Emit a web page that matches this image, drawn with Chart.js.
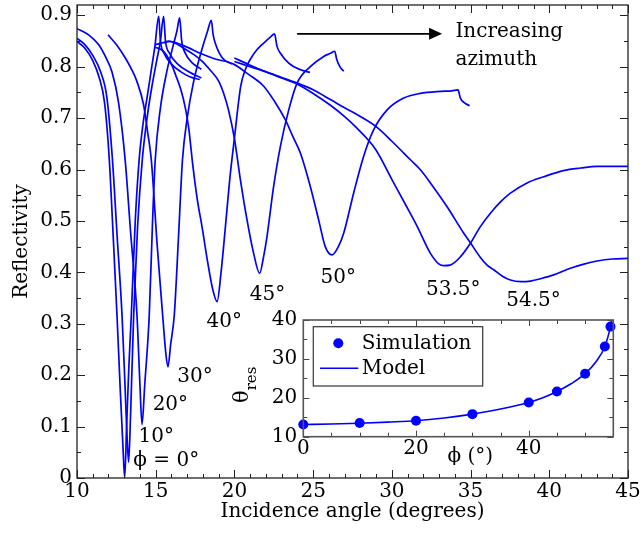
<!DOCTYPE html>
<html><head><meta charset="utf-8">
<script src="https://cdn.jsdelivr.net/npm/chart.js@4/dist/chart.umd.min.js"></script>
<style>
html,body{margin:0;padding:0;background:#fff;}
#wrap{position:relative;width:640px;height:533px;background:#fff;}
#main{position:absolute;left:0;top:0;width:640px;height:533px;}
#inset{position:absolute;left:230px;top:300px;width:390px;height:165px;}
</style></head><body>
<div id="wrap">
<canvas id="main" width="640" height="533"></canvas>
<canvas id="inset" width="390" height="165"></canvas>
</div>
<script>
// ---------------- main chart data ----------------
const xTickValues = [10, 15, 20, 25, 30, 35, 40, 45];
const yTickValues = [0, 0.1, 0.2, 0.3, 0.4, 0.5, 0.6, 0.7, 0.8, 0.9];
const yTickLabels = ['0', '0.1', '0.2', '0.3', '0.4', '0.5', '0.6', '0.7', '0.8', '0.9'];

const phi0_x = [10, 10.5, 11.0, 11.4, 11.75, 12.05, 12.3, 12.54, 12.75, 12.92, 13.03, 13.15, 13.3, 13.45, 13.7, 13.95, 14.2, 14.45, 14.7, 14.95, 15.19, 15.3, 15.55, 16.0, 16.6, 17.2, 17.8];
const phi0_y = [0.849, 0.836, 0.812, 0.78, 0.73, 0.62, 0.47, 0.317, 0.17, 0.06, 0.0, 0.1, 0.22, 0.317, 0.5, 0.62, 0.69, 0.74, 0.79, 0.84, 0.898, 0.85, 0.825, 0.805, 0.79, 0.78, 0.775];

const phi10_x = [10, 10.5, 11.0, 11.5, 11.9, 12.25, 12.55, 12.86, 13.05, 13.18, 13.28, 13.4, 13.6, 13.85, 14.15, 14.45, 14.75, 15.05, 15.3, 15.5, 15.62, 15.9, 16.4, 17.1, 17.9];
const phi10_y = [0.855, 0.843, 0.822, 0.79, 0.74, 0.62, 0.47, 0.317, 0.18, 0.08, 0.031, 0.12, 0.317, 0.49, 0.62, 0.7, 0.76, 0.81, 0.85, 0.898, 0.85, 0.825, 0.805, 0.79, 0.778];

const phi20_x = [10, 10.74, 11.37, 11.8, 12.22, 12.64, 13.07, 13.4, 13.81, 14.0, 14.13, 14.3, 14.59, 14.8, 14.97, 15.3, 15.7, 16.1, 16.35, 16.52, 16.65, 16.9, 17.3, 17.9];
const phi20_y = [0.874, 0.862, 0.843, 0.82, 0.79, 0.73, 0.615, 0.48, 0.317, 0.18, 0.104, 0.18, 0.317, 0.5, 0.619, 0.72, 0.79, 0.84, 0.87, 0.895, 0.85, 0.825, 0.808, 0.795];

const phi30_x = [11.97, 12.5, 13.07, 13.5, 13.81, 14.23, 14.5, 14.72, 15.1, 15.44, 15.65, 15.78, 15.95, 16.18, 16.45, 16.7, 17.0, 17.4, 17.9, 18.3, 18.53, 18.65, 18.79, 19.21, 19.85];
const phi30_y = [0.862, 0.843, 0.817, 0.793, 0.771, 0.726, 0.67, 0.619, 0.45, 0.317, 0.24, 0.216, 0.26, 0.317, 0.47, 0.619, 0.7, 0.77, 0.83, 0.87, 0.89, 0.862, 0.845, 0.818, 0.805];

const phi40_x = [14.97, 15.5, 16.0, 16.25, 16.6, 16.88, 17.1, 17.35, 17.65, 17.94, 18.3, 18.6, 18.9, 19.15, 19.42, 19.7, 20.0, 20.4, 20.7, 21.0, 21.4, 21.86, 22.3, 22.55, 22.7, 22.9, 23.45, 24.2, 24.8];
const phi40_y = [0.838, 0.83, 0.805, 0.785, 0.755, 0.72, 0.68, 0.61, 0.54, 0.489, 0.42, 0.37, 0.343, 0.4, 0.486, 0.58, 0.661, 0.762, 0.795, 0.814, 0.832, 0.846, 0.858, 0.864, 0.84, 0.827, 0.807, 0.794, 0.789];

const phi45_x = [15.5, 15.82, 16.4, 16.88, 17.4, 17.94, 18.5, 19.0, 19.35, 19.63, 20.0, 20.38, 20.8, 21.22, 21.6, 21.85, 22.07, 22.49, 22.92, 23.45, 23.98, 24.82, 25.67, 26.1, 26.37, 26.5, 26.7, 26.94];
const phi45_y = [0.846, 0.85, 0.843, 0.834, 0.824, 0.811, 0.792, 0.772, 0.745, 0.715, 0.66, 0.58, 0.502, 0.437, 0.398, 0.43, 0.47, 0.567, 0.645, 0.716, 0.768, 0.8, 0.82, 0.826, 0.83, 0.814, 0.8, 0.791];

const phi50_x = [14.97, 15.93, 16.99, 17.83, 18.68, 19.95, 20.9, 21.86, 22.6, 23.23, 23.7, 24.19, 24.82, 25.35, 25.77, 26.2, 26.6, 26.94, 27.57, 28.2, 28.84, 29.7, 30.75, 31.8, 33.1, 33.8, 34.2, 34.35, 34.6, 34.94];
const phi50_y = [0.843, 0.849, 0.838, 0.826, 0.816, 0.805, 0.785, 0.762, 0.73, 0.697, 0.665, 0.632, 0.567, 0.502, 0.45, 0.434, 0.45, 0.476, 0.554, 0.625, 0.677, 0.716, 0.739, 0.748, 0.752, 0.753, 0.755, 0.739, 0.73, 0.724];

const phi53_5_x = [20.0, 21.0, 22.0, 23.0, 24.0, 25.0, 26.1, 27.0, 27.7, 28.95, 30.1, 30.9, 31.6, 32.45, 33.0, 33.3, 33.7, 34.35, 35.0, 35.6, 36.26, 36.9, 37.53, 38.59, 39.65, 40.9, 42.0, 43.04, 45.0];
const phi53_5_y = [0.817, 0.803, 0.79, 0.778, 0.766, 0.748, 0.725, 0.703, 0.683, 0.64, 0.575, 0.53, 0.49, 0.437, 0.416, 0.413, 0.414, 0.43, 0.457, 0.488, 0.515, 0.537, 0.554, 0.574, 0.586, 0.598, 0.603, 0.606, 0.606];

const phi54_5_x = [20.0, 21.0, 22.0, 23.0, 24.0, 25.0, 26.1, 27.0, 28.0, 29.06, 30.0, 31.18, 31.8, 32.45, 33.5, 34.57, 35.0, 35.6, 36.05, 36.47, 37.0, 37.53, 38.2, 38.8, 39.5, 40.28, 41.34, 42.2, 43.04, 44.0, 45.0];
const phi54_5_y = [0.81, 0.8, 0.79, 0.779, 0.768, 0.755, 0.736, 0.72, 0.703, 0.682, 0.655, 0.619, 0.6, 0.574, 0.528, 0.476, 0.457, 0.43, 0.414, 0.405, 0.393, 0.385, 0.382, 0.383, 0.388, 0.395, 0.408, 0.416, 0.422, 0.426, 0.427];

// curve annotations (text and anchor in data units)
const curveLabels = ['\u03D5 = 0\u00B0', '10\u00B0', '20\u00B0', '30\u00B0', '40\u00B0', '45\u00B0', '50\u00B0', '53.5\u00B0', '54.5\u00B0'];
const curveLabelX = [15.67, 15.04, 15.93, 17.5, 19.35, 22.1, 26.6, 33.9, 39.0];
const curveLabelY = [0.033, 0.081, 0.142, 0.197, 0.304, 0.357, 0.389, 0.366, 0.344];
const arrowFrom = [23.98, 0.864];
const arrowTo = [33.19, 0.864];
const noteLines = ['Increasing', 'azimuth'];
const noteX = 34.04;
const noteY = [0.857, 0.8035];

// ---------------- inset data ----------------
const simPhi = [0, 10, 20, 30, 40, 45, 50, 53.5, 54.5];
const simTheta = [13.15, 13.5, 14.1, 15.8, 18.8, 21.6, 26.2, 33.2, 38.3];
const modelPhi = [0, 5, 10, 15, 20, 25, 30, 35, 40, 42.5, 45, 47.5, 50, 52, 53.5, 54.5, 54.9];
const modelTheta = [13.15, 13.25, 13.45, 13.75, 14.1, 14.8, 15.8, 17.1, 18.8, 20.0, 21.6, 23.6, 26.2, 29.4, 33.2, 38.3, 41.5];
const insetXTicks = [0, 20, 40];
const insetYTicks = [10, 20, 30, 40];

// ---------------- drawing ----------------
const FONT = "'DejaVu Serif', serif";
const BLUE = '#0000ff';

const curves = [
  [phi0_x, phi0_y], [phi10_x, phi10_y], [phi20_x, phi20_y], [phi30_x, phi30_y],
  [phi40_x, phi40_y], [phi45_x, phi45_y], [phi50_x, phi50_y],
  [phi53_5_x, phi53_5_y], [phi54_5_x, phi54_5_y]
];

function pts(xs, ys) { return xs.map((v, i) => ({x: v, y: ys[i]})); }
function noPadV(s) { s.paddingTop = 0; s.paddingBottom = 0; }
function noPadH(s) { s.paddingLeft = 0; s.paddingRight = 0; }

const mainAxes = {
  id: 'mainAxes',
  afterDatasetsDraw(chart) {
    const {ctx, chartArea: ca, scales: {x, y}} = chart;
    ctx.save();
    ctx.strokeStyle = '#222';
    ctx.lineWidth = 1;
    ctx.beginPath();
    for (let v = x.min; v <= x.max + 1e-9; v += 1) {
      const px = Math.round(x.getPixelForValue(v)) + 0.5;
      const len = (Math.round(v) % 5 === 0) ? 8 : 4;
      ctx.moveTo(px, ca.bottom); ctx.lineTo(px, ca.bottom - len);
      ctx.moveTo(px, ca.top); ctx.lineTo(px, ca.top + len);
    }
    for (let k = 0; k * 0.05 <= y.max + 1e-9; k++) {
      const py = Math.round(y.getPixelForValue(k * 0.05)) + 0.5;
      const len = (k % 2 === 0) ? 8 : 4;
      ctx.moveTo(ca.left, py); ctx.lineTo(ca.left + len, py);
      ctx.moveTo(ca.right, py); ctx.lineTo(ca.right - len, py);
    }
    ctx.stroke();
    ctx.lineWidth = 1.3;
    ctx.strokeRect(ca.left, ca.top, ca.width, ca.height);

    // curve labels
    ctx.fillStyle = '#000';
    ctx.font = '20px ' + FONT;
    ctx.textAlign = 'center';
    ctx.textBaseline = 'middle';
    curveLabels.forEach((t, i) => {
      ctx.fillText(t, x.getPixelForValue(curveLabelX[i]), y.getPixelForValue(curveLabelY[i]));
    });
    // arrow
    const ax0 = x.getPixelForValue(arrowFrom[0]), ay = y.getPixelForValue(arrowFrom[1]);
    const ax1 = x.getPixelForValue(arrowTo[0]);
    ctx.strokeStyle = '#000';
    ctx.lineWidth = 1.8;
    ctx.beginPath(); ctx.moveTo(ax0, ay); ctx.lineTo(ax1 - 10, ay); ctx.stroke();
    ctx.beginPath(); ctx.moveTo(ax1, ay); ctx.lineTo(ax1 - 13, ay - 6); ctx.lineTo(ax1 - 13, ay + 6); ctx.closePath(); ctx.fill();
    ctx.textAlign = 'left';
    ctx.textBaseline = 'alphabetic';
    noteLines.forEach((t, i) => ctx.fillText(t, x.getPixelForValue(noteX), y.getPixelForValue(noteY[i])));
    ctx.restore();
  }
};

new Chart(document.getElementById('main'), {
  type: 'scatter',
  data: {
    datasets: curves.map(c => ({
      data: pts(c[0], c[1]), showLine: true, borderColor: BLUE, backgroundColor: BLUE,
      borderWidth: 1.7, pointRadius: 0, cubicInterpolationMode: 'monotone', fill: false
    }))
  },
  options: {
    responsive: false, animation: false, devicePixelRatio: 1,
    layout: {padding: {top: 5, right: 12, left: 0, bottom: 0}},
    plugins: {legend: {display: false}, tooltip: {enabled: false}},
    scales: {
      x: {
        type: 'linear', min: 10, max: 45,
        afterBuildTicks: s => { s.ticks = xTickValues.map(v => ({value: v})); },
        ticks: {font: {family: FONT, size: 20}, color: '#000', padding: 2, maxRotation: 0, autoSkip: false, callback: v => String(v)},
        grid: {display: false, drawTicks: false}, border: {display: false},
        title: {display: true, text: 'Incidence angle (degrees)', color: '#000', font: {family: FONT, size: 20}, padding: {top: 0, bottom: 9}},
        afterFit: s => { s.height = 55; noPadH(s); }
      },
      y: {
        type: 'linear', min: 0, max: 0.92,
        afterBuildTicks: s => { s.ticks = yTickValues.map(v => ({value: v})); },
        ticks: {font: {family: FONT, size: 20}, color: '#000', padding: 5, autoSkip: false, callback: (v, i) => yTickLabels[i]},
        grid: {display: false, drawTicks: false}, border: {display: false},
        title: {display: true, text: 'Reflectivity', color: '#000', font: {family: FONT, size: 20}, padding: {top: 10, bottom: 0}},
        afterFit: s => { s.width = 77; noPadV(s); }
      }
    }
  },
  plugins: [mainAxes]
});

// ---------------- inset ----------------
const insetDeco = {
  id: 'insetDeco',
  afterDatasetsDraw(chart) {
    const {ctx, chartArea: ca, scales: {x, y}} = chart;
    ctx.save();
    ctx.strokeStyle = '#444';
    ctx.lineWidth = 1;
    ctx.beginPath();
    for (let v = 0; v <= x.max + 1e-9; v += 5) {
      const px = Math.round(x.getPixelForValue(v)) + 0.5;
      const len = (v % 20 === 0) ? 6 : 4;
      ctx.moveTo(px, ca.bottom); ctx.lineTo(px, ca.bottom - len);
      ctx.moveTo(px, ca.top); ctx.lineTo(px, ca.top + len);
    }
    for (let v = y.min; v <= y.max + 1e-9; v += 5) {
      const py = Math.round(y.getPixelForValue(v)) + 0.5;
      const len = (v % 10 === 0) ? 6 : 4;
      ctx.moveTo(ca.left, py); ctx.lineTo(ca.left + len, py);
      ctx.moveTo(ca.right, py); ctx.lineTo(ca.right - len, py);
    }
    ctx.stroke();
    ctx.strokeStyle = '#555';
    ctx.lineWidth = 1.6;
    ctx.strokeRect(ca.left, ca.top, ca.width, ca.height);

    // legend
    const bx = ca.left + 10, by = ca.top + 6.7;
    ctx.fillStyle = '#fff';
    ctx.fillRect(bx, by, 169.4, 59.3);
    ctx.strokeStyle = '#333';
    ctx.lineWidth = 1.2;
    ctx.strokeRect(bx, by, 169.4, 59.3);
    ctx.fillStyle = BLUE;
    ctx.beginPath(); ctx.arc(ca.left + 35, ca.top + 23.3, 5, 0, Math.PI * 2); ctx.fill();
    ctx.strokeStyle = BLUE; ctx.lineWidth = 1.6;
    ctx.beginPath(); ctx.moveTo(ca.left + 16.7, ca.top + 48.3); ctx.lineTo(ca.left + 55, ca.top + 48.3); ctx.stroke();
    ctx.fillStyle = '#000';
    ctx.font = '20px ' + FONT;
    ctx.textAlign = 'left'; ctx.textBaseline = 'middle';
    ctx.fillText(chart.data.datasets[0].label, ca.left + 58.4, ca.top + 23.3);
    ctx.fillText(chart.data.datasets[1].label, ca.left + 58.4, ca.top + 48.3);

    // x title
    ctx.textAlign = 'center';
    ctx.fillText('\u03D5 (\u00B0)', (ca.left + ca.right) / 2 + 12, ca.bottom + 20);
    // y title theta_res (rotated)
    ctx.save();
    ctx.translate(ca.left - 55, ca.top + 83);
    ctx.rotate(-Math.PI / 2);
    ctx.textAlign = 'left'; ctx.textBaseline = 'alphabetic';
    ctx.font = '21px ' + FONT;
    ctx.fillText('\u03B8', 0, 0);
    const w = ctx.measureText('\u03B8').width;
    ctx.font = '15px ' + FONT;
    ctx.fillText('res', w, 8);
    ctx.restore();
    ctx.restore();
  }
};

new Chart(document.getElementById('inset'), {
  type: 'scatter',
  data: {
    datasets: [
      {label: 'Simulation', data: pts(simPhi, simTheta), showLine: false, pointRadius: 5, pointBackgroundColor: BLUE, pointBorderColor: BLUE, pointBorderWidth: 0, clip: false, order: 0},
      {label: 'Model', data: pts(modelPhi, modelTheta), showLine: true, pointRadius: 0, borderColor: BLUE, borderWidth: 1.6, cubicInterpolationMode: 'monotone', order: 1}
    ]
  },
  options: {
    responsive: false, animation: false, devicePixelRatio: 1,
    layout: {padding: {top: 20, right: 6.7, left: 0, bottom: 0}},
    plugins: {legend: {display: false}, tooltip: {enabled: false}},
    scales: {
      x: {
        type: 'linear', min: 0, max: 55,
        afterBuildTicks: s => { s.ticks = insetXTicks.map(v => ({value: v})); },
        ticks: {font: {family: FONT, size: 20}, color: '#000', padding: 0, maxRotation: 0, autoSkip: false, callback: v => String(v)},
        grid: {display: false, drawTicks: false}, border: {display: false},
        afterFit: s => { s.height = 28.3; noPadH(s); }
      },
      y: {
        type: 'linear', min: 10, max: 40,
        afterBuildTicks: s => { s.ticks = insetYTicks.map(v => ({value: v})); },
        ticks: {font: {family: FONT, size: 20}, color: '#000', padding: 6, autoSkip: false, callback: v => String(v)},
        grid: {display: false, drawTicks: false}, border: {display: false},
        afterFit: s => { s.width = 73.3; noPadV(s); }
      }
    }
  },
  plugins: [insetDeco]
});
</script>
</body></html>
